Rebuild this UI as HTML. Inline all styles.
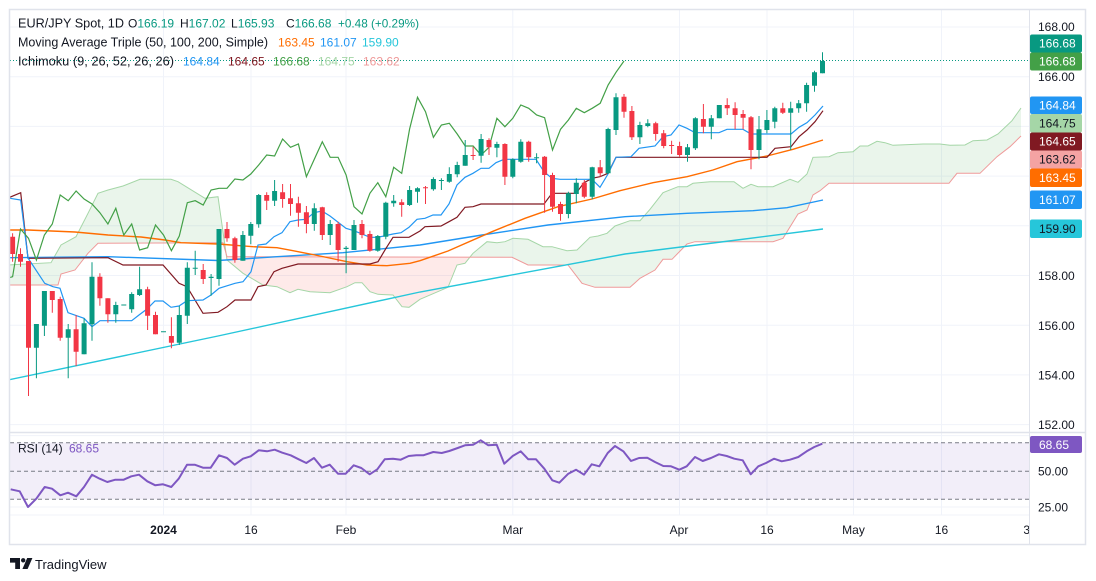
<!DOCTYPE html>
<html>
<head>
<meta charset="utf-8">
<style>
html,body{margin:0;padding:0;background:#fff;}
body{width:1096px;height:581px;overflow:hidden;}
svg{display:block;}
</style>
</head>
<body>
<svg width="1096" height="581" viewBox="0 0 1096 581" xmlns="http://www.w3.org/2000/svg" font-family="'Liberation Sans', Arial, sans-serif">
<defs>
  <clipPath id="cm"><rect x="10" y="10" width="1019" height="422"/></clipPath>
  <clipPath id="cr"><rect x="10" y="433" width="1019" height="82"/></clipPath>
  <clipPath id="cg"><rect x="10" y="10" width="216.4" height="422"/><rect x="469.8" y="10" width="560" height="422"/></clipPath>
  <clipPath id="cred"><rect x="226.4" y="10" width="243.4" height="422"/></clipPath>
  <clipPath id="ct"><rect x="10" y="515" width="1019" height="29"/></clipPath>
</defs>
<rect x="0" y="0" width="1096" height="581" fill="#fff"/>

<!-- gridlines -->
<g stroke="#f0f3fa" stroke-width="1">
  <line x1="10" y1="27" x2="1029" y2="27"/>
  <line x1="10" y1="76.7" x2="1029" y2="76.7"/>
  <line x1="10" y1="126.4" x2="1029" y2="126.4"/>
  <line x1="10" y1="176.1" x2="1029" y2="176.1"/>
  <line x1="10" y1="225.8" x2="1029" y2="225.8"/>
  <line x1="10" y1="275.5" x2="1029" y2="275.5"/>
  <line x1="10" y1="325.2" x2="1029" y2="325.2"/>
  <line x1="10" y1="374.9" x2="1029" y2="374.9"/>
  <line x1="10" y1="424.6" x2="1029" y2="424.6"/>
  <line x1="10" y1="435.6" x2="1029" y2="435.6"/>
  <line x1="10" y1="507" x2="1029" y2="507"/>
  <line x1="163.5" y1="10" x2="163.5" y2="515"/>
  <line x1="251" y1="10" x2="251" y2="515"/>
  <line x1="346" y1="10" x2="346" y2="515"/>
  <line x1="512.8" y1="10" x2="512.8" y2="515"/>
  <line x1="679.5" y1="10" x2="679.5" y2="515"/>
  <line x1="767" y1="10" x2="767" y2="515"/>
  <line x1="853.5" y1="10" x2="853.5" y2="515"/>
  <line x1="941.5" y1="10" x2="941.5" y2="515"/>
</g>

<g clip-path="url(#cm)">
  <!-- cloud fills -->
  <polygon clip-path="url(#cg)" fill="#43a047" fill-opacity="0.11" points="8,265 51,262.7 61,245 76,236.7 88,213.3 98,193.3 108,190 123,186 140,179.3 171,179.3 178,181.7 205,198.3 218,196.7 227,260 243,273.3 263,285 277,286.7 290,292.7 298,289.3 310,291.7 330,292.7 347,286.7 355,282.7 362,282.7 370,291.7 378,294.3 393,295 402,306.7 409,307.3 420,299.3 448,287.3 457,265 465,263.3 473,253.3 487,241.7 497,242.7 505,241.7 513,238.3 528,239.3 543,246.7 552,246.7 567,250.7 577,250 590,237.3 598,236 607,233.3 615,226 630,220.7 640,220.7 650,209.3 663,192.7 678,186.7 687,186.7 693,183.3 710,181.7 734,181.7 743,188.3 751,184.3 758,186.7 773,186.7 790,179.3 798,182.3 807,174 813,157.3 829,156.7 838,152.7 853,151.7 860,146 868,146 877,141.3 885,142.7 893,145.3 923,144 940,144 950,145.3 965,145 973,140.7 987,140 998,134 1012,120.7 1021,108 1021,136 1010,146.7 997,156.7 980,173.3 957,173.3 949,183.3 829,183.3 820,190.7 813,195 807,210 798,214 783,238.3 773,241.7 695,241.7 687,244 672,259.3 663,259.3 655,270 640,278.3 630,287.3 595,287.3 582,283.3 568,265 528,265 512,257.3 227,256.7 223,242.7 98,243.3 88,253.3 75,270 61,274 58,285 8,285"/>
  <polygon clip-path="url(#cred)" fill="#f44336" fill-opacity="0.11" points="8,265 51,262.7 61,245 76,236.7 88,213.3 98,193.3 108,190 123,186 140,179.3 171,179.3 178,181.7 205,198.3 218,196.7 227,260 243,273.3 263,285 277,286.7 290,292.7 298,289.3 310,291.7 330,292.7 347,286.7 355,282.7 362,282.7 370,291.7 378,294.3 393,295 402,306.7 409,307.3 420,299.3 448,287.3 457,265 465,263.3 473,253.3 487,241.7 497,242.7 505,241.7 513,238.3 528,239.3 543,246.7 552,246.7 567,250.7 577,250 590,237.3 598,236 607,233.3 615,226 630,220.7 640,220.7 650,209.3 663,192.7 678,186.7 687,186.7 693,183.3 710,181.7 734,181.7 743,188.3 751,184.3 758,186.7 773,186.7 790,179.3 798,182.3 807,174 813,157.3 829,156.7 838,152.7 853,151.7 860,146 868,146 877,141.3 885,142.7 893,145.3 923,144 940,144 950,145.3 965,145 973,140.7 987,140 998,134 1012,120.7 1021,108 1021,136 1010,146.7 997,156.7 980,173.3 957,173.3 949,183.3 829,183.3 820,190.7 813,195 807,210 798,214 783,238.3 773,241.7 695,241.7 687,244 672,259.3 663,259.3 655,270 640,278.3 630,287.3 595,287.3 582,283.3 568,265 528,265 512,257.3 227,256.7 223,242.7 98,243.3 88,253.3 75,270 61,274 58,285 8,285"/>
  <!-- span A / B -->
  <polyline fill="none" stroke="#a5d6a7" stroke-width="1" points="8,265 51,262.7 61,245 76,236.7 88,213.3 98,193.3 108,190 123,186 140,179.3 171,179.3 178,181.7 205,198.3 218,196.7 227,260 243,273.3 263,285 277,286.7 290,292.7 298,289.3 310,291.7 330,292.7 347,286.7 355,282.7 362,282.7 370,291.7 378,294.3 393,295 402,306.7 409,307.3 420,299.3 448,287.3 457,265 465,263.3 473,253.3 487,241.7 497,242.7 505,241.7 513,238.3 528,239.3 543,246.7 552,246.7 567,250.7 577,250 590,237.3 598,236 607,233.3 615,226 630,220.7 640,220.7 650,209.3 663,192.7 678,186.7 687,186.7 693,183.3 710,181.7 734,181.7 743,188.3 751,184.3 758,186.7 773,186.7 790,179.3 798,182.3 807,174 813,157.3 829,156.7 838,152.7 853,151.7 860,146 868,146 877,141.3 885,142.7 893,145.3 923,144 940,144 950,145.3 965,145 973,140.7 987,140 998,134 1012,120.7 1021,108"/>
  <polyline fill="none" stroke="#ef9a9a" stroke-width="1" points="8,285 58,285 61,274 75,270 88,253.3 98,243.3 223,242.7 227,256.7 512,257.3 528,265 568,265 582,283.3 595,287.3 630,287.3 640,278.3 655,270 663,259.3 672,259.3 687,244 695,241.7 773,241.7 783,238.3 798,214 807,210 813,195 820,190.7 829,183.3 949,183.3 957,173.3 980,173.3 997,156.7 1010,146.7 1021,136"/>

  <!-- moving averages -->
  <polyline fill="none" stroke="#26c6da" stroke-width="1.4" points="8,380 218,336 420,292 625,254 737,240 823,229"/>
  <polyline fill="none" stroke="#2196f3" stroke-width="1.4" points="8,257.7 108,256.7 218,260.5 277,256.7 343,252.7 420,245 482,235 548,225 625,216.7 687,213.3 753,210.7 787,207.7 823,200"/>
  <polyline fill="none" stroke="#ff6d00" stroke-width="1.4" points="8,230 28,230 75,232 108,235 141,237 165,240 181,242.7 218,244 253,246.7 277,247.7 293,250.7 320,256 347,261.7 367,265 387,265.7 410,263.3 420,260.7 448,251 492,231.7 525,218.3 558,206.7 592,199 620,190.7 653,182.7 687,176.7 713,170 737,161.7 767,156 793,149.3 823,140"/>

  <!-- ichimoku lines -->
  <polyline fill="none" stroke="#801922" stroke-width="1.2" points="8,198 20.7,192.7 28,258.3 108,257.7 123,265 163,265 179,283.3 187,286.7 203,313.3 218,312.3 227,306.7 235,300 251,300 258,286.7 266,285 274,271.7 282,268.3 298,264 370,264 378,261.7 386,248.3 393,237.3 409,237.3 420,231 425,226.7 441,226 449,221.7 457,217.3 465,207.3 473,206.7 481,204 544,204 552,193.3 576,193.3 584,182.7 592,178.3 600,176.7 608,173.3 616,157.3 767,157.3 775,148.3 791,146.7 799,136.7 807,130 815,121.7 823,110.7"/>
  <polyline fill="none" stroke="#2196f3" stroke-width="1.2" points="8,198 20.7,200 28,258 44.7,283.3 53,286.7 60,288.3 68,312.7 84,318.3 92,326.7 100,320.7 131.7,320.7 139,315 147,309 155,301 163,301 171,307.3 179,306 187,300.7 203,300 211,295 219,288.3 235,283.3 243,281.7 251,271.7 258,245 266,244 274,236.7 282,232.7 290,221.7 298,220 306,219.3 314,212.7 322,211 330,216 346,228.3 354,230.7 370,237.3 378,237.3 393,234 401,232.7 409,227.3 417,219.3 425,218.3 433,215 441,215 449,204 457,185 465,177.3 473,173.3 481,168.3 489,168.3 496,162.7 504,159.3 536,159.3 544,171.7 552,178.3 560,179.3 592,179.3 600,187.3 608,174 616,157.3 631,156.7 639,148.3 655,146 663,136.7 671,135 679,125 687,128.3 695,132.7 719,132.7 727,129.3 743,129.3 751,134 791,134 799,127.3 807,122.7 815,115 823,106"/>
  <polyline fill="none" stroke="#43a047" stroke-width="1.2" points="4.7,279 12.6,276.7 20.5,229 28.5,238.3 36.4,260 44.4,235 52.3,224 60.2,195 68.2,200.7 76.1,191 84.1,199 92,204 99.9,212.7 107.9,224 115.8,208.3 123.8,235 131.7,224 139.6,250 147.6,247.7 155.5,225 163.5,235 171.4,250.7 179.3,236 187.3,202.7 195.2,200.7 203.2,205 211.1,190 219,188.3 227,188.3 234.9,179 242.9,180 250.8,174 258.7,165 266.7,155 274.6,156 282.6,139 290.5,147.3 298.4,144 306.4,176.7 314.3,159.3 322.3,141.7 330.2,157.3 338.1,157.3 346.1,175 354,206.7 362,214 369.9,193.3 377.8,182.7 385.8,196.7 393.7,167.3 401.7,173.3 409.6,129 417.5,97.3 425.5,111.7 433.4,137.3 441.4,125 449.3,123.3 457.2,134 465.2,146 473.1,146 481.1,155 489,147.3 496.9,118.3 504.9,126.7 512.8,118.3 520.8,105 528.7,108.3 536.6,115 544.6,117.7 552.5,150 560.5,129.3 568.4,120 576.3,108.3 584.3,112.7 592.2,108.3 600.2,103.3 608.1,85 616,72.3 624,61"/>

  <!-- candles green -->
  <path fill="none" stroke="#089981" stroke-width="1" d="M36.4 324V378.3M44.4 291V336M68.2 324V378.3M84.1 318.3V354.3M92 262.3V340.7M115.8 301.7V322.7M131.7 292.3V312.7M139.6 266.7V296M179.3 306V345M187.3 262.3V324M195.2 250.7V275M211.1 274V295.7M219 229V285.7M242.9 231V260.7M250.8 222V244.3M258.7 194V227.7M274.6 180V206M314.3 203.3V230.7M330.2 220V245M346.1 246V273.3M354 220V250M377.8 235V251.7M385.8 201.7V239.3M393.7 195V206.7M409.6 186V206M417.5 187.3V202.7M433.4 177.3V190.7M441.4 178.3V190M449.3 167.3V182.7M457.2 161.7V177.3M465.2 140V165.7M481.1 134V162.7M496.9 141.7V157.3M512.8 158.3V178.3M520.8 139.3V162.7M536.6 153.3V163.3M568.4 191.7V218.3M576.3 178.3V203.3M592.2 166.7V199.3M608.1 127.7V174M616 93.3V135M639.9 121.7V144M647.8 119.3V127.3M687.5 144V161.7M695.4 117.3V150M711.3 115V139.3M719.3 105V118.3M759 116V159.3M766.9 110V133.3M774.8 106.7V128.3M790.7 101.7V150M798.7 100V112.7M806.6 82.7V111.7M814.5 70.7V91.7M822.5 52.3V73.3"/>
  <path fill="#089981" d="M33.9 324h5V347.7h-5ZM41.9 291h5V325.7h-5ZM65.7 329.3h5V337.7h-5ZM81.6 323.3h5V354.3h-5ZM89.5 276.7h5V324.3h-5ZM113.3 305h5V314.3h-5ZM121.3 304.5h5V305.5h-5ZM129.2 294h5V309.3h-5ZM137.1 289.3h5V295h-5ZM161 331.2h5V332.2h-5ZM176.8 315h5V342.7h-5ZM184.8 267.7h5V315.7h-5ZM192.7 267.7h5V268.7h-5ZM208.6 276.7h5V278h-5ZM216.5 229h5V279h-5ZM240.4 235h5V260.7h-5ZM248.3 224h5V235.7h-5ZM256.2 195h5V224.3h-5ZM272.1 191h5V200.7h-5ZM311.8 208.3h5V224h-5ZM327.7 224h5V235h-5ZM343.6 247.7h5V249h-5ZM351.5 225h5V250h-5ZM375.3 236h5V250.7h-5ZM383.3 202.7h5V236.7h-5ZM391.2 200.7h5V203.3h-5ZM407.1 190h5V205h-5ZM415 188.3h5V191.7h-5ZM430.9 179h5V189.3h-5ZM438.9 180h5V181h-5ZM446.8 174h5V181.7h-5ZM454.7 165h5V174.3h-5ZM462.7 155h5V165.7h-5ZM478.6 139h5V155.7h-5ZM494.4 144h5V147.7h-5ZM510.3 159.3h5V176.7h-5ZM518.3 141.7h5V161.7h-5ZM534.1 157.3h5V158.3h-5ZM565.9 193.3h5V214h-5ZM573.8 182.7h5V194h-5ZM589.7 167.3h5V196.7h-5ZM605.6 129h5V173.3h-5ZM613.5 97.3h5V130h-5ZM637.4 125h5V137.3h-5ZM645.3 123.3h5V126h-5ZM685 147.3h5V155h-5ZM692.9 118.3h5V148.3h-5ZM708.8 118.3h5V126.7h-5ZM716.8 105h5V118.3h-5ZM756.5 129.3h5V150h-5ZM764.4 120h5V130h-5ZM772.3 108.3h5V121.7h-5ZM788.2 108.3h5V112.7h-5ZM796.2 103.3h5V108.3h-5ZM804.1 85h5V103.3h-5ZM812 72.3h5V85.7h-5ZM820 61h5V73.3h-5Z"/>
  <!-- candles red -->
  <path fill="none" stroke="#f23645" stroke-width="1" d="M12.6 233.3V261.7M20.5 248.3V266.7M28.5 261V396M52.3 291V312.7M60.2 296.7V340.7M76.1 315V366M99.9 273.3V305.7M107.9 298.3V322.7M147.6 286.7V330M155.5 311.7V334.3M171.4 317.3V348.3M203.2 264V284M227 222V241.7M234.9 236.7V262.7M266.7 192.3V210M282.6 184V207.7M290.5 184V215.7M298.4 196.7V226.7M306.4 206V233.3M322.3 206.7V240M338.1 221.7V261.7M362 220V238.3M369.9 230.7V251.7M401.7 199.3V216.7M425.5 186V204M473.1 146.7V160M489 138.3V155M504.9 143.3V185M528.7 140.7V161.7M544.6 156V212.7M552.5 172.7V211.7M560.5 201.7V220.7M584.3 180V198.3M600.2 160V176.7M624 94V117.7M631.9 106V140M655.7 121.7V140.7M663.7 130V148.3M671.6 140.7V154M679.6 141.7V156.7M703.4 104V133.3M727.2 98.3V115M735.1 102.3V129.3M743.1 110V129.3M751 116V169.3M782.8 102.7V114"/>
  <path fill="#f23645" d="M10.1 236.7h5V254h-5ZM18 254h5V261.7h-5ZM26 261h5V347.7h-5ZM49.8 291h5V300h-5ZM57.7 299h5V337.7h-5ZM73.6 329.3h5V351.7h-5ZM97.4 276.7h5V298.3h-5ZM105.4 298.3h5V314.3h-5ZM145.1 289.3h5V315.7h-5ZM153 315h5V334.3h-5ZM168.9 336h5V342.7h-5ZM200.7 270h5V279h-5ZM224.5 229h5V238.3h-5ZM232.4 238.3h5V260h-5ZM264.2 195h5V200.7h-5ZM280.1 192.3h5V199h-5ZM288 198.3h5V204h-5ZM295.9 203.3h5V212.7h-5ZM303.9 212.3h5V224h-5ZM319.8 207.3h5V235h-5ZM335.6 224h5V250h-5ZM359.5 224h5V235h-5ZM367.4 234h5V250.7h-5ZM399.2 202.3h5V205h-5ZM423 187.3h5V188.3h-5ZM470.6 155h5V156h-5ZM486.5 140h5V147.3h-5ZM502.4 144h5V176.7h-5ZM526.2 141.7h5V157.3h-5ZM542.1 156.7h5V175h-5ZM550 175h5V206.7h-5ZM558 204h5V214h-5ZM581.8 182.7h5V196.7h-5ZM597.7 167.3h5V173.3h-5ZM621.5 96.7h5V111.7h-5ZM629.4 111h5V137.3h-5ZM653.2 123.3h5V134h-5ZM661.2 133.3h5V146h-5ZM669.1 145h5V146h-5ZM677.1 146h5V155h-5ZM700.9 119h5V126.7h-5ZM724.7 105h5V108.3h-5ZM732.6 108.3h5V115h-5ZM740.6 114h5V117.7h-5ZM748.5 117.3h5V150h-5ZM780.3 108.3h5V112.7h-5Z"/>

  <!-- last price dotted line -->
  <line x1="10" y1="60.5" x2="1029" y2="60.5" stroke="#089981" stroke-width="1" stroke-dasharray="1 2"/>
</g>

<!-- legend -->
<g fill="#131722" font-size="12">
  <text x="18" y="27.3" font-size="12.5" textLength="106" lengthAdjust="spacingAndGlyphs">EUR/JPY Spot, 1D</text>
  <text x="128" y="27.3">O<tspan fill="#089981">166.19</tspan></text>
  <text x="180" y="27.3">H<tspan fill="#089981">167.02</tspan></text>
  <text x="231" y="27.3">L<tspan fill="#089981">165.93</tspan></text>
  <text x="286" y="27.3">C<tspan fill="#089981">166.68</tspan></text>
  <text x="338" y="27.3" fill="#089981" textLength="81" lengthAdjust="spacingAndGlyphs">+0.48 (+0.29%)</text>

  <text x="18" y="46.3" font-size="12.5" textLength="250" lengthAdjust="spacingAndGlyphs">Moving Average Triple (50, 100, 200, Simple)</text>
  <text x="278" y="46.3" fill="#ff6d00">163.45</text>
  <text x="320" y="46.3" fill="#2196f3">161.07</text>
  <text x="362" y="46.3" fill="#26c6da">159.90</text>

  <text x="18" y="65.3" font-size="12.5" textLength="156" lengthAdjust="spacingAndGlyphs">Ichimoku (9, 26, 52, 26, 26)</text>
  <text x="183" y="65.3" fill="#2196f3">164.84</text>
  <text x="228" y="65.3" fill="#801922">164.65</text>
  <text x="273" y="65.3" fill="#43a047">166.68</text>
  <text x="318" y="65.3" fill="#a5d6a7">164.75</text>
  <text x="363" y="65.3" fill="#ef9a9a">163.62</text>
</g>

<!-- RSI pane -->
<rect x="10" y="442.7" width="1019" height="56.6" fill="#7e57c2" fill-opacity="0.1"/>
<g stroke="#787b86" stroke-width="1" stroke-dasharray="4 3">
  <line x1="10" y1="442.7" x2="1029" y2="442.7"/>
  <line x1="10" y1="471.3" x2="1029" y2="471.3"/>
  <line x1="10" y1="499.3" x2="1029" y2="499.3"/>
</g>
<g clip-path="url(#cr)">
<polyline fill="none" stroke="#7e57c2" stroke-width="2" stroke-linejoin="round" points="10.7,489.3 19.7,491.3 28,507 36.3,498.7 44.7,487 52,488.7 60.3,495.3 68,492.7 76.3,496.3 84,487 92,474.7 99.7,478.7 107.3,482 115.3,479.7 123.7,479.7 131.3,476.3 139,474.7 147.3,481.3 155.3,485.3 163,484.3 171.3,487 178.7,478.7 187,464.7 194.7,464.7 203,467.7 210.7,467.7 219,455.3 227,458 234.7,464.7 243,458.7 250.7,456.3 258.7,450.3 267,451.3 274.7,449.7 282.3,452.7 290.7,455.3 298.7,459.3 306.3,463 314,458 322,467.7 329.7,464.7 338,473.7 345.7,473.7 353.7,465.3 361.3,468 369.7,474.3 377.3,469.3 384.7,459.3 393,458.7 400.7,459.7 408.7,456 416.3,455.3 423.3,455.3 433.3,452 441.7,453 449.3,451 457.7,448 465,445.3 473.3,444.7 480.7,440.3 488.3,445.3 496.7,444.7 504.3,463.7 512.7,456 520.7,451.3 528.3,459.3 536,459.3 544.3,468.7 552.3,480.3 559.3,482.7 568.3,473.7 576,469.7 584,474.7 591.7,464.3 599.3,466.3 607.7,453 615,446 623.3,451.3 631,461 639,458 647.3,457.7 655,462 663.3,466 671,466.3 679.3,469.7 686.7,466.3 695,457 702.7,461 711,458 719,454.3 726.7,456 734.3,458.7 742.7,460.3 750.7,474.3 758.3,466.3 766,463 774,458.7 781.7,461.3 790,459.7 798.3,457 806.7,451.3 814.3,447 822.3,443.7"/>
</g>
<text x="18" y="452.3" font-size="12" fill="#131722">RSI (14)</text>
<text x="69" y="452.3" font-size="12" fill="#7e57c2">68.65</text>

<!-- separators -->
<line x1="10" y1="432.5" x2="1085" y2="432.5" stroke="#e0e3eb" stroke-width="1.5"/>
<line x1="1029.5" y1="10" x2="1029.5" y2="544" stroke="#e0e3eb" stroke-width="1"/>
<line x1="10" y1="515" x2="1029" y2="515" stroke="#f0f3fa" stroke-width="1"/>

<!-- price axis labels -->
<g font-size="12" fill="#131722">
  <text x="1038" y="31.2">168.00</text>
  <text x="1038" y="81">166.00</text>
  <text x="1038" y="280">158.00</text>
  <text x="1038" y="330">156.00</text>
  <text x="1038" y="379.3">154.00</text>
  <text x="1038" y="429">152.00</text>
  <text x="1038" y="475.5">50.00</text>
  <text x="1038" y="511.3">25.00</text>
</g>

<!-- price tags -->
<g font-size="12">
  <rect x="1030" y="34.5" width="52" height="18" rx="2" fill="#089981"/>
  <text x="1039" y="47.7" fill="#fff">166.68</text>
  <rect x="1030" y="52.5" width="52" height="18" rx="2" fill="#43a047"/>
  <text x="1039" y="65.7" fill="#fff">166.68</text>
  <rect x="1030" y="96.5" width="52" height="17.5" rx="2" fill="#2196f3"/>
  <text x="1039" y="109.5" fill="#fff">164.84</text>
  <rect x="1030" y="114" width="52" height="18.5" rx="2" fill="#a5d6a7"/>
  <text x="1039" y="127.5" fill="#131722">164.75</text>
  <rect x="1030" y="132.5" width="52" height="18" rx="2" fill="#801922"/>
  <text x="1039" y="145.7" fill="#fff">164.65</text>
  <rect x="1030" y="150.5" width="52" height="18" rx="2" fill="#f4a3a3"/>
  <text x="1039" y="163.7" fill="#131722">163.62</text>
  <rect x="1030" y="168.5" width="52" height="18.5" rx="2" fill="#ff6d00"/>
  <text x="1039" y="182" fill="#fff">163.45</text>
  <rect x="1030" y="190.5" width="52" height="18.5" rx="2" fill="#2196f3"/>
  <text x="1039" y="204" fill="#fff">161.07</text>
  <rect x="1030" y="219.5" width="52" height="18.5" rx="2" fill="#26c6da"/>
  <text x="1039" y="233" fill="#131722">159.90</text>
  <rect x="1030" y="436" width="52" height="17" rx="2" fill="#7e57c2"/>
  <text x="1039" y="448.8" fill="#fff">68.65</text>
</g>

<!-- time axis -->
<g font-size="12" fill="#131722" text-anchor="middle" clip-path="url(#ct)">
  <text x="163.5" y="534" font-weight="bold">2024</text>
  <text x="251" y="534">16</text>
  <text x="346" y="534">Feb</text>
  <text x="512.8" y="534">Mar</text>
  <text x="679" y="534">Apr</text>
  <text x="767" y="534">16</text>
  <text x="853.5" y="534">May</text>
  <text x="941.5" y="534">16</text>
  <text x="1030" y="534">31</text>
</g>

<!-- outer border -->
<rect x="9.5" y="9.5" width="1076" height="535" fill="none" stroke="#e0e3eb" stroke-width="1.5"/>

<!-- TradingView logo -->
<g fill="#131722">
  <path d="M10 558H20V569H15.2V562.6H10Z"/>
  <circle cx="23.2" cy="560.3" r="2.2"/>
  <path d="M27.2 558H32.4L27.6 569H22.4Z"/>
  <text x="35" y="569" font-size="13">TradingView</text>
</g>
</svg>
</body>
</html>
